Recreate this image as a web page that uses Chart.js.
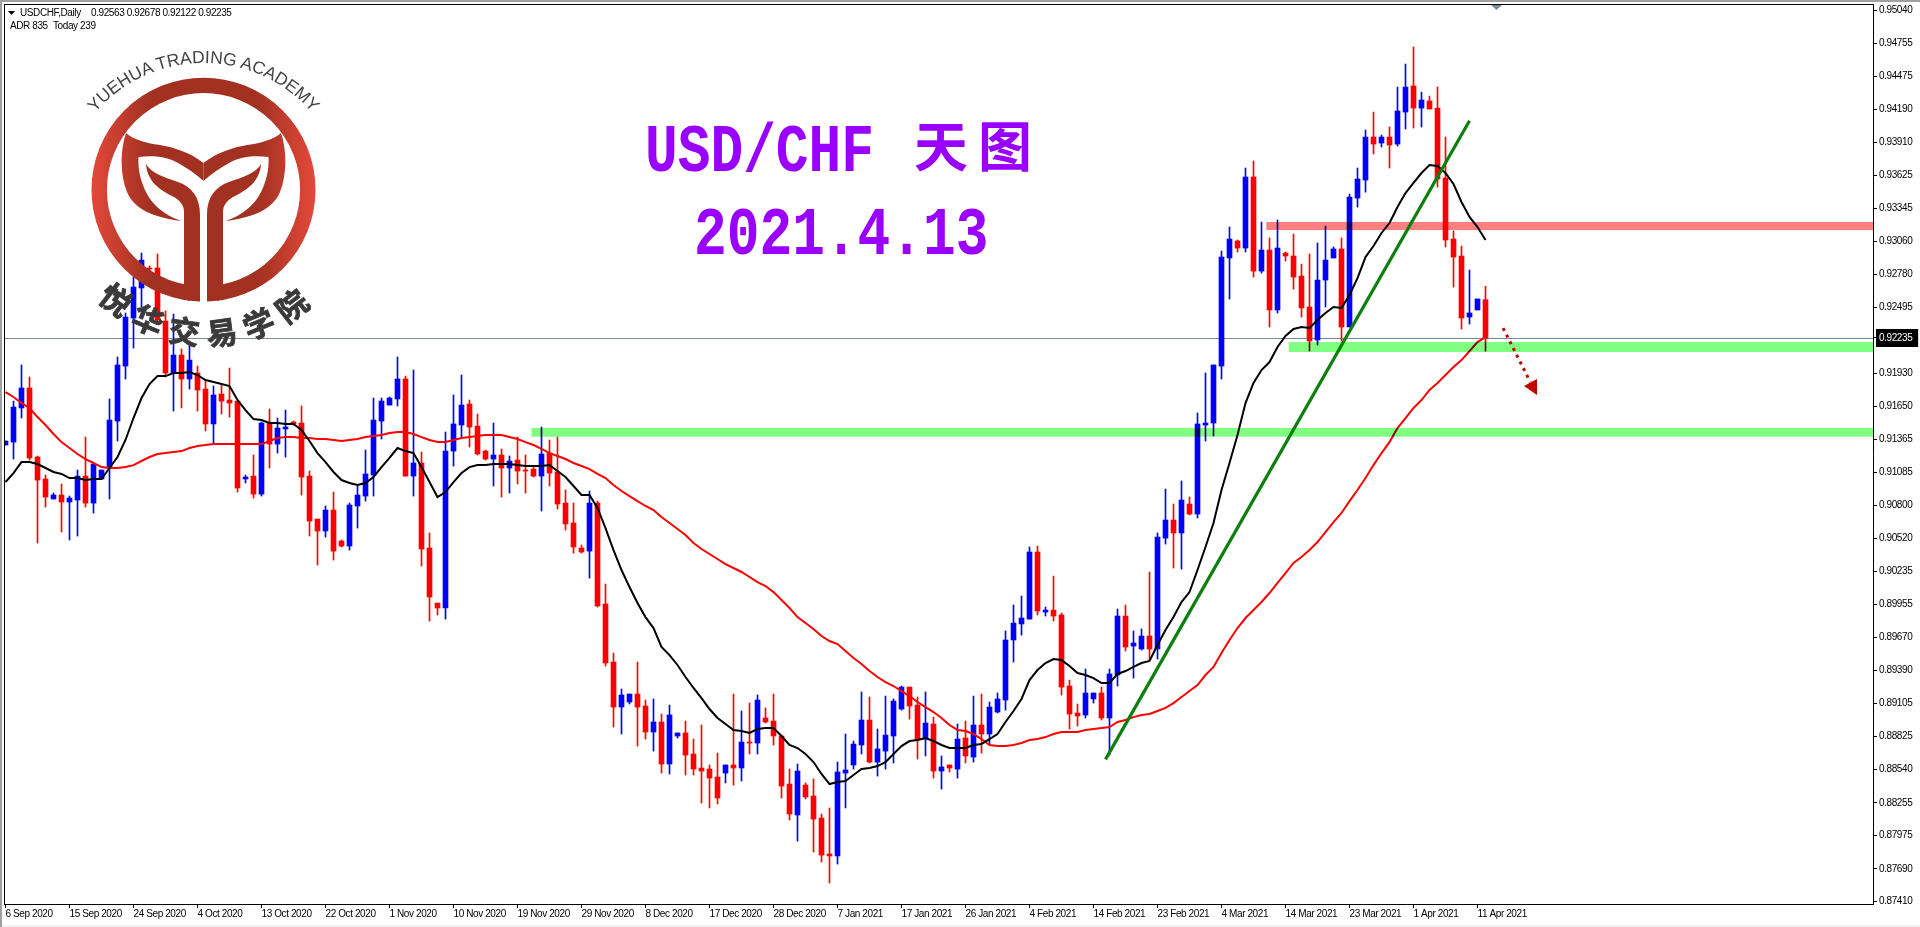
<!DOCTYPE html>
<html>
<head>
<meta charset="utf-8">
<title>USD/CHF</title>
<script src="https://cdn.jsdelivr.net/npm/chart.js@4"></script>
<style>
  html, body { margin: 0; padding: 0; background: #fff; overflow: hidden; }
  #wrap { position: relative; width: 1920px; height: 927px; }
  #chart { position: absolute; left: 0; top: 0; }
  #logo { position: absolute; left: 0; top: 0; pointer-events: none; }
  .title { position: absolute; color: #9900ff; white-space: nowrap; line-height: 1; }
  .latin { font-family: "Liberation Mono", monospace; font-weight: bold; font-size: 69px; transform-origin: left top; transform: scaleX(0.79); }
  .cjk { font-family: "Noto Sans CJK SC", sans-serif; font-weight: 700; font-size: 54px; letter-spacing: 10px; }
</style>
</head>
<body>
<div id="wrap">
  <canvas id="chart" width="1920" height="927"></canvas>

  <svg id="logo" width="420" height="380" viewBox="0 0 420 380">
    <defs>
      <linearGradient id="brick" gradientUnits="userSpaceOnUse" x1="91" y1="0" x2="316" y2="0">
        <stop offset="0" stop-color="#e4493a"/>
        <stop offset="0.26" stop-color="#a23122"/>
        <stop offset="0.74" stop-color="#a23122"/>
        <stop offset="1" stop-color="#e4493a"/>
      </linearGradient>
      <path id="arcTop" d="M60.5 206 A143 143 0 0 1 346.5 206" fill="none"/>
      <path id="arcBottom" d="M53 190 A155 155 0 0 0 363 190" fill="none"/>
      <g id="half">
        <path d="M203.5 163 C190 152 172 147 160 145 C145 143 133 139 126 133 C120 150 120 175 127 192 C135 212 160 218 181 221 C165 215 150 205 143 185 C139 175 138 165 138.5 157 C155 155 168 157 178 163 C187 168 196 174 203.5 181 Z"/>
        <path d="M146 164 C150 172 163 177 178 182 C192 187 200 197 200 215 L200 288 C199 294 192 300 188 301 L184 284 L184 212 C184 205 180 200 172 196 C158 189 147 180 146 164 Z"/>
      </g>
    </defs>
    <circle cx="203.5" cy="189.7" r="104.3" fill="none" stroke="url(#brick)" stroke-width="15.4"/>
    <rect x="200" y="280" width="7" height="26" fill="#fff"/>
    <g fill="url(#brick)">
      <use href="#half"/>
      <use href="#half" transform="translate(407 0) scale(-1 1)"/>
    </g>
    <text font-family="Liberation Sans" font-size="17.5" fill="#444">
      <textPath href="#arcTop" startOffset="50%" text-anchor="middle">YUEHUA TRADING ACADEMY</textPath>
    </text>
    <text font-family="Noto Sans CJK SC" font-weight="700" font-size="31" letter-spacing="10" fill="#3a3a3a" stroke="#3a3a3a" stroke-width="0.8">
      <textPath href="#arcBottom" startOffset="50%" text-anchor="middle">悦华交易学院</textPath>
    </text>
  </svg>

  <div class="title latin" style="left:645px;top:119px">USD/CHF</div>
  <div class="title cjk" style="left:914px;top:117px">天图</div>
  <div class="title latin" style="left:694px;top:202px">2021.4.13</div>
</div>

<script>
// Date labels, one every 8 bars
const dateLabels = ['6 Sep 2020','15 Sep 2020','24 Sep 2020','4 Oct 2020','13 Oct 2020','22 Oct 2020','1 Nov 2020','10 Nov 2020','19 Nov 2020','29 Nov 2020','8 Dec 2020','17 Dec 2020','28 Dec 2020','7 Jan 2021','17 Jan 2021','26 Jan 2021','4 Feb 2021','14 Feb 2021','23 Feb 2021','4 Mar 2021','14 Mar 2021','23 Mar 2021','1 Apr 2021','11 Apr 2021'];

const priceTicks = [0.95040,0.94755,0.94475,0.94190,0.93910,0.93625,0.93345,0.93060,0.92780,0.92495,0.92235,0.91930,0.91650,0.91365,0.91085,0.90800,0.90520,0.90235,0.89955,0.89670,0.89390,0.89105,0.88825,0.88540,0.88255,0.87975,0.87690,0.87410];

const opens = [0.91319,0.91344,0.91636,0.91807,0.91216,0.91028,0.90857,0.90891,0.90831,0.90848,0.91053,0.90822,0.91028,0.91122,0.91524,0.91995,0.92406,0.92663,0.92834,0.92834,0.92380,0.91935,0.92089,0.91884,0.91935,0.91798,0.91499,0.91755,0.91704,0.91695,0.91028,0.91053,0.90899,0.91507,0.91327,0.91456,0.91516,0.91507,0.91053,0.90685,0.90583,0.90762,0.90497,0.90454,0.90797,0.90882,0.91062,0.91524,0.91661,0.91713,0.91884,0.91053,0.91165,0.90437,0.89966,0.89924,0.91267,0.91490,0.91670,0.91481,0.91267,0.91199,0.91233,0.91122,0.91190,0.91105,0.91113,0.91053,0.91250,0.91088,0.90822,0.90651,0.90437,0.90411,0.90822,0.89958,0.89461,0.89076,0.89119,0.89187,0.89085,0.88862,0.88948,0.88588,0.88828,0.88854,0.88674,0.88554,0.88545,0.88477,0.88511,0.88580,0.88554,0.88776,0.88768,0.88982,0.88956,0.88828,0.88417,0.88152,0.88408,0.88314,0.88126,0.87818,0.87801,0.88511,0.88580,0.88751,0.88965,0.88605,0.88699,0.88828,0.89059,0.89247,0.89093,0.88802,0.88931,0.88528,0.88580,0.88545,0.88811,0.88648,0.88922,0.88845,0.89033,0.89136,0.89650,0.89787,0.89829,0.90403,0.89889,0.89906,0.89864,0.89256,0.89025,0.89008,0.89145,0.89196,0.88982,0.89350,0.89855,0.89598,0.89573,0.89684,0.89573,0.90522,0.90677,0.90566,0.90814,0.90728,0.91490,0.91507,0.91995,0.92920,0.93065,0.93005,0.93613,0.92808,0.92988,0.92475,0.92962,0.92937,0.92765,0.92500,0.92218,0.92731,0.92920,0.92997,0.92329,0.93433,0.93587,0.93955,0.93904,0.93955,0.93895,0.94169,0.94392,0.94203,0.94264,0.94203,0.93604,0.93082,0.92937,0.92414,0.92475,0.92563];

const highs = [0.91353,0.91695,0.92004,0.91901,0.91225,0.91062,0.90908,0.90985,0.90882,0.91105,0.91387,0.91156,0.91105,0.91713,0.92072,0.92449,0.92757,0.92962,0.92851,0.92954,0.92466,0.92440,0.92141,0.92192,0.91995,0.91875,0.91824,0.91832,0.91978,0.91695,0.91062,0.91233,0.91516,0.91627,0.91550,0.91618,0.91524,0.91653,0.91096,0.90685,0.90797,0.90916,0.90506,0.90822,0.90976,0.91276,0.91721,0.91721,0.91730,0.92072,0.91909,0.91961,0.91259,0.90566,0.89966,0.91430,0.91747,0.91918,0.91704,0.91584,0.91276,0.91507,0.91285,0.91225,0.91387,0.91233,0.91130,0.91473,0.91362,0.91387,0.90934,0.90822,0.90463,0.90925,0.90839,0.90129,0.89538,0.89230,0.89187,0.89461,0.89136,0.89145,0.89016,0.89093,0.88854,0.88956,0.88802,0.88922,0.88580,0.88682,0.88580,0.89187,0.89042,0.89110,0.89179,0.89068,0.89187,0.88836,0.88545,0.88588,0.88426,0.88460,0.88160,0.88212,0.88605,0.88845,0.88785,0.89205,0.89162,0.88888,0.89170,0.89145,0.89256,0.89247,0.89162,0.89205,0.88990,0.88657,0.88580,0.88931,0.88956,0.89170,0.89187,0.89119,0.89196,0.89727,0.89949,0.90026,0.90446,0.90454,0.89932,0.90197,0.89881,0.89307,0.89102,0.89401,0.89196,0.89247,0.89401,0.89915,0.89949,0.89727,0.89744,0.90231,0.90566,0.90942,0.90814,0.91011,0.90874,0.91593,0.91935,0.92004,0.92979,0.93185,0.93074,0.93690,0.93750,0.93228,0.93091,0.93245,0.92971,0.93125,0.92868,0.92954,0.93048,0.93193,0.93014,0.93091,0.93467,0.93690,0.94015,0.94169,0.93972,0.94041,0.94383,0.94580,0.94726,0.94340,0.94306,0.94383,0.93955,0.93151,0.93022,0.92817,0.92569,0.92678];

const lows = [0.91319,0.91199,0.91550,0.91190,0.90480,0.90788,0.90857,0.90574,0.90506,0.90540,0.90788,0.90737,0.91028,0.90857,0.91353,0.91884,0.92149,0.92500,0.92800,0.92363,0.91901,0.91610,0.91636,0.91798,0.91610,0.91439,0.91327,0.91584,0.91558,0.90916,0.90994,0.90865,0.90882,0.91122,0.91250,0.91216,0.91490,0.90891,0.90540,0.90292,0.90531,0.90334,0.90446,0.90420,0.90608,0.90839,0.90882,0.91370,0.91661,0.91653,0.91053,0.90882,0.90283,0.89812,0.89864,0.89829,0.91139,0.91379,0.91302,0.91233,0.91190,0.90968,0.90874,0.90908,0.90985,0.90908,0.91045,0.90754,0.90968,0.90771,0.90591,0.90394,0.90394,0.90180,0.89932,0.89427,0.88905,0.88845,0.89102,0.88742,0.88802,0.88699,0.88511,0.88503,0.88811,0.88494,0.88494,0.88254,0.88212,0.88246,0.88426,0.88408,0.88443,0.88674,0.88674,0.88939,0.88751,0.88297,0.88109,0.87929,0.88289,0.87835,0.87749,0.87570,0.87732,0.88212,0.88545,0.88674,0.88597,0.88485,0.88545,0.88597,0.89050,0.88973,0.88631,0.88657,0.88468,0.88374,0.88520,0.88468,0.88597,0.88605,0.88682,0.88759,0.89025,0.89050,0.89461,0.89692,0.89829,0.89864,0.89855,0.89812,0.89179,0.88888,0.88913,0.88982,0.89110,0.88965,0.88665,0.89256,0.89556,0.89324,0.89564,0.89478,0.89487,0.90471,0.90266,0.90257,0.90720,0.90694,0.91353,0.91396,0.91884,0.92569,0.92971,0.92971,0.92757,0.92791,0.92329,0.92449,0.92894,0.92654,0.92414,0.92123,0.92175,0.92500,0.92920,0.92209,0.92329,0.93356,0.93484,0.93810,0.93870,0.93690,0.93878,0.94024,0.94032,0.94041,0.94195,0.93527,0.93014,0.92671,0.92312,0.92354,0.92475,0.92122];

const closes = [0.91353,0.91644,0.91807,0.91208,0.91019,0.90874,0.90891,0.90831,0.90865,0.91053,0.90822,0.91156,0.91105,0.91533,0.92004,0.92414,0.92671,0.92902,0.92825,0.92389,0.91935,0.92089,0.91884,0.92046,0.91790,0.91499,0.91747,0.91695,0.91678,0.90951,0.91045,0.90899,0.91507,0.91327,0.91464,0.91473,0.91499,0.91045,0.90668,0.90583,0.90762,0.90411,0.90454,0.90805,0.90891,0.91071,0.91533,0.91695,0.91721,0.91884,0.91053,0.91165,0.90429,0.90018,0.89924,0.91267,0.91499,0.91661,0.91473,0.91242,0.91199,0.91233,0.91122,0.91182,0.91096,0.91096,0.91053,0.91242,0.91079,0.90814,0.90643,0.90446,0.90403,0.90822,0.89941,0.89453,0.89076,0.89179,0.89187,0.89076,0.88862,0.88948,0.88588,0.89008,0.88854,0.88665,0.88545,0.88528,0.88468,0.88297,0.88580,0.88554,0.88776,0.88768,0.89136,0.88948,0.88828,0.88400,0.88160,0.88528,0.88306,0.88117,0.87809,0.87801,0.88520,0.88537,0.88759,0.88965,0.88605,0.88717,0.88836,0.89127,0.89247,0.89085,0.88794,0.88939,0.88528,0.88563,0.88554,0.88802,0.88657,0.88922,0.88845,0.89076,0.89145,0.89650,0.89795,0.89838,0.90403,0.89898,0.89906,0.89855,0.89247,0.89016,0.88999,0.89196,0.89196,0.88982,0.89359,0.89855,0.89590,0.89624,0.89684,0.89573,0.90531,0.90677,0.90566,0.90848,0.90728,0.91499,0.91507,0.92004,0.92928,0.93082,0.93005,0.93613,0.92808,0.92988,0.92475,0.93005,0.92937,0.92757,0.92492,0.92209,0.92731,0.92902,0.92997,0.92329,0.93442,0.93596,0.93955,0.93895,0.93955,0.93887,0.94178,0.94383,0.94203,0.94272,0.94195,0.93596,0.93074,0.92928,0.92406,0.92449,0.92569,0.92235];

// Black moving average
const fastMa = [0.91002,0.91079,0.91173,0.91173,0.91156,0.91122,0.91088,0.91071,0.91036,0.91036,0.91019,0.91028,0.91028,0.91122,0.91216,0.91362,0.91550,0.91721,0.91841,0.91909,0.91909,0.91935,0.91935,0.91944,0.91918,0.91875,0.91858,0.91841,0.91824,0.91704,0.91618,0.91541,0.91533,0.91507,0.91507,0.91499,0.91499,0.91447,0.91353,0.91250,0.91173,0.91088,0.91019,0.90994,0.90976,0.90994,0.91045,0.91130,0.91208,0.91293,0.91267,0.91250,0.91130,0.91002,0.90874,0.90916,0.91002,0.91079,0.91130,0.91147,0.91147,0.91156,0.91156,0.91156,0.91147,0.91139,0.91139,0.91139,0.91147,0.91096,0.91045,0.90968,0.90891,0.90891,0.90780,0.90608,0.90420,0.90249,0.90103,0.89966,0.89846,0.89752,0.89590,0.89521,0.89436,0.89333,0.89239,0.89153,0.89059,0.88982,0.88931,0.88880,0.88871,0.88854,0.88888,0.88897,0.88897,0.88828,0.88751,0.88725,0.88674,0.88605,0.88503,0.88417,0.88434,0.88443,0.88494,0.88545,0.88554,0.88571,0.88605,0.88674,0.88742,0.88785,0.88794,0.88811,0.88785,0.88751,0.88725,0.88725,0.88725,0.88751,0.88759,0.88802,0.88845,0.88948,0.89042,0.89145,0.89307,0.89393,0.89453,0.89487,0.89478,0.89427,0.89367,0.89350,0.89324,0.89281,0.89281,0.89359,0.89384,0.89419,0.89453,0.89470,0.89607,0.89735,0.89846,0.89975,0.90060,0.90249,0.90446,0.90651,0.90934,0.91165,0.91404,0.91678,0.91850,0.91961,0.92029,0.92158,0.92252,0.92312,0.92329,0.92320,0.92389,0.92449,0.92500,0.92492,0.92603,0.92748,0.92928,0.93022,0.93134,0.93219,0.93356,0.93476,0.93562,0.93647,0.93716,0.93707,0.93647,0.93553,0.93399,0.93271,0.93185,0.93074];

// Red moving average
const slowMa = [0.91772,0.91730,0.91678,0.91636,0.91558,0.91490,0.91413,0.91344,0.91293,0.91242,0.91199,0.91165,0.91130,0.91122,0.91122,0.91130,0.91147,0.91182,0.91216,0.91242,0.91250,0.91259,0.91267,0.91293,0.91310,0.91319,0.91327,0.91327,0.91327,0.91327,0.91327,0.91327,0.91327,0.91353,0.91379,0.91387,0.91387,0.91379,0.91379,0.91370,0.91370,0.91362,0.91353,0.91362,0.91370,0.91387,0.91396,0.91404,0.91422,0.91430,0.91430,0.91413,0.91387,0.91362,0.91344,0.91344,0.91362,0.91379,0.91387,0.91396,0.91404,0.91404,0.91404,0.91387,0.91370,0.91344,0.91319,0.91285,0.91250,0.91225,0.91199,0.91165,0.91139,0.91113,0.91071,0.91036,0.90976,0.90925,0.90882,0.90839,0.90797,0.90762,0.90702,0.90651,0.90600,0.90548,0.90480,0.90429,0.90386,0.90343,0.90300,0.90266,0.90232,0.90189,0.90146,0.90112,0.90060,0.89992,0.89924,0.89846,0.89795,0.89744,0.89684,0.89641,0.89615,0.89556,0.89495,0.89444,0.89384,0.89333,0.89290,0.89256,0.89213,0.89170,0.89119,0.89076,0.89033,0.88982,0.88922,0.88880,0.88871,0.88845,0.88802,0.88751,0.88742,0.88742,0.88751,0.88768,0.88794,0.88802,0.88819,0.88845,0.88862,0.88862,0.88862,0.88880,0.88888,0.88897,0.88905,0.88948,0.88965,0.88990,0.89008,0.89016,0.89042,0.89068,0.89110,0.89162,0.89213,0.89264,0.89350,0.89419,0.89538,0.89650,0.89752,0.89838,0.89906,0.89975,0.90052,0.90138,0.90223,0.90309,0.90360,0.90420,0.90488,0.90574,0.90659,0.90737,0.90839,0.90934,0.91036,0.91147,0.91250,0.91344,0.91464,0.91550,0.91636,0.91704,0.91790,0.91850,0.91918,0.91986,0.92046,0.92123,0.92200,0.92243];

const currentPrice = 0.92235;

// Drawn objects: bar index + price
const zones = [
  { from: 65.75, top: 0.91464, bottom: 0.91390, color: '#80ff80' },
  { from: 160.4, top: 0.92200, bottom: 0.92115, color: '#80ff80' },
  { from: 157.6, top: 0.93228, bottom: 0.93159, color: '#ff8080' }
];
const trendLine = [[137.5, 0.88628], [183, 0.94095]];
const arrowLine = [[187.2, 0.92320], [190.6, 0.91858]];
const arrowHead = [[191.44, 0.91747], [191.44, 0.91884], [189.81, 0.91824]];

const BLUE = '#0000ff', RED = '#ff0000';
const barIndex = opens.map((_, i) => i);
const candleColors = opens.map((o, i) => closes[i] >= o ? BLUE : RED);

const tickFont = { family: '"Liberation Sans", Arial, sans-serif', size: 10 };

const mtObjects = {
  id: 'mtObjects',
  beforeDraw(chart) {
    chart.ctx.letterSpacing = '-0.4px';
  },
  beforeDatasetsDraw(chart) {
    const { ctx, chartArea: a, scales: { y } } = chart;
    // line at the current price
    ctx.save();
    ctx.fillStyle = '#778899';
    ctx.fillRect(a.left, Math.round(y.getPixelForValue(currentPrice)), a.right - a.left, 1);
    ctx.restore();
  },
  afterDatasetsDraw(chart) {
    const { ctx, chartArea: a, scales: { x, y } } = chart;
    const px = p => [x.getPixelForValue(p[0]), y.getPixelForValue(p[1])];

    ctx.save();
    ctx.beginPath();
    ctx.rect(a.left, a.top, a.right - a.left, a.bottom - a.top);
    ctx.clip();

    ctx.globalCompositeOperation = 'multiply';
    zones.forEach(z => {
      const left = x.getPixelForValue(z.from);
      const top = y.getPixelForValue(z.top);
      ctx.fillStyle = z.color;
      ctx.fillRect(left, top, a.right - left, y.getPixelForValue(z.bottom) - top);
    });
    ctx.globalCompositeOperation = 'source-over';

    // trend line
    ctx.strokeStyle = '#0a7f0a';
    ctx.lineWidth = 3.2;
    ctx.beginPath();
    ctx.moveTo(...px(trendLine[0]));
    ctx.lineTo(...px(trendLine[1]));
    ctx.stroke();

    // dotted arrow
    ctx.strokeStyle = '#c00000';
    ctx.lineWidth = 3;
    ctx.setLineDash([3, 4.5]);
    ctx.beginPath();
    ctx.moveTo(...px(arrowLine[0]));
    ctx.lineTo(...px(arrowLine[1]));
    ctx.stroke();
    ctx.setLineDash([]);
    ctx.fillStyle = '#c00000';
    ctx.beginPath();
    ctx.moveTo(...px(arrowHead[0]));
    ctx.lineTo(...px(arrowHead[1]));
    ctx.lineTo(...px(arrowHead[2]));
    ctx.closePath();
    ctx.fill();
    ctx.restore();
  },
  afterDraw(chart) {
    const { ctx, chartArea: a } = chart;
    const last = opens.length - 1;
    ctx.save();
    // window edges and the chart's top and left frame
    ctx.fillStyle = '#a0a0a0';
    ctx.fillRect(0, 0, 1920, 2);
    ctx.fillRect(0, 0, 2, 927);
    ctx.fillStyle = '#f0f0f0';
    ctx.fillRect(2, 925, 1918, 2);
    ctx.fillStyle = '#000';
    ctx.fillRect(4, 4, a.right - 3, 1);
    ctx.fillRect(4, 4, 1, a.bottom - 3);

    // marker at the top of the chart
    ctx.fillStyle = '#7788a0';
    ctx.beginPath();
    ctx.moveTo(1491, 5);
    ctx.lineTo(1502, 5);
    ctx.lineTo(1496.5, 10);
    ctx.closePath();
    ctx.fill();

    // small menu triangle and the header text
    ctx.fillStyle = '#000';
    ctx.beginPath();
    ctx.moveTo(8, 11);
    ctx.lineTo(15, 11);
    ctx.lineTo(11.5, 15);
    ctx.closePath();
    ctx.fill();
    ctx.font = '10px "Liberation Sans", Arial, sans-serif';
    ctx.textBaseline = 'middle';
    const ohlc = [opens, highs, lows, closes].map(s => s[last].toFixed(5)).join(' ');
    ctx.fillText('USDCHF,Daily', 20, 13);
    ctx.fillText(ohlc, 91, 13);
    ctx.fillText('ADR 835', 10, 26);
    ctx.fillText('Today 239', 53, 26);
    ctx.restore();
  }
};

new Chart(document.getElementById('chart').getContext('2d'), {
  type: 'bar',
  data: {
    datasets: [
      {
        type: 'line',
        data: barIndex.map(i => ({ x: i, y: fastMa[i] })),
        borderColor: '#000',
        borderWidth: 2,
        pointRadius: 0,
        tension: 0,
        order: 0
      },
      {
        type: 'line',
        data: barIndex.map(i => ({ x: i, y: slowMa[i] })),
        borderColor: RED,
        borderWidth: 2,
        pointRadius: 0,
        tension: 0,
        order: 1
      },
      {
        data: barIndex.map(i => ({ x: i, y: [opens[i], closes[i]] })),
        backgroundColor: candleColors,
        barThickness: 5,
        minBarLength: 1,
        grouped: false,
        order: 2
      },
      {
        data: barIndex.map(i => ({ x: i, y: [lows[i], highs[i]] })),
        backgroundColor: candleColors,
        barThickness: 1,
        grouped: false,
        order: 3
      }
    ]
  },
  options: {
    responsive: false,
    animation: false,
    devicePixelRatio: 1,
    events: [],
    layout: { padding: { left: 5, top: 4, right: 0, bottom: 0 } },
    plugins: { legend: { display: false }, tooltip: { enabled: false } },
    scales: {
      x: {
        type: 'linear',
        offset: false,
        min: -0.0625,
        max: 233.4375,
        afterFit(scale) {
          scale.height = 23;
          scale.paddingLeft = 0;
          scale.paddingRight = 0;
        },
        afterBuildTicks(scale) {
          scale.ticks = dateLabels.map((_, i) => ({ value: i * 8 }));
        },
        grid: { offset: false, drawOnChartArea: false, drawTicks: true, tickLength: 4, color: '#000' },
        border: { display: true, color: '#000' },
        ticks: {
          autoSkip: false,
          maxRotation: 0,
          align: 'start',
          padding: 0,
          color: '#000',
          font: tickFont,
          callback: value => dateLabels[value / 8]
        }
      },
      y: {
        type: 'linear',
        position: 'right',
        min: 0.87390,
        max: 0.95094,
        afterFit(scale) {
          scale.width = 47;
          scale.paddingTop = 0;
          scale.paddingBottom = 0;
        },
        afterBuildTicks(scale) {
          scale.ticks = priceTicks.map(v => ({ value: v }));
        },
        grid: { drawOnChartArea: false, drawTicks: true, tickLength: 4, color: '#000' },
        border: { display: true, color: '#000' },
        ticks: {
          autoSkip: false,
          padding: 2,
          font: tickFont,
          color: c => c.tick.value === currentPrice ? '#fff' : '#000',
          showLabelBackdrop: c => c.tick.value === currentPrice,
          backdropColor: '#000',
          backdropPadding: { x: 3, y: 3 },
          callback: value => value.toFixed(5)
        }
      }
    }
  },
  plugins: [mtObjects]
});
</script>
</body>
</html>
